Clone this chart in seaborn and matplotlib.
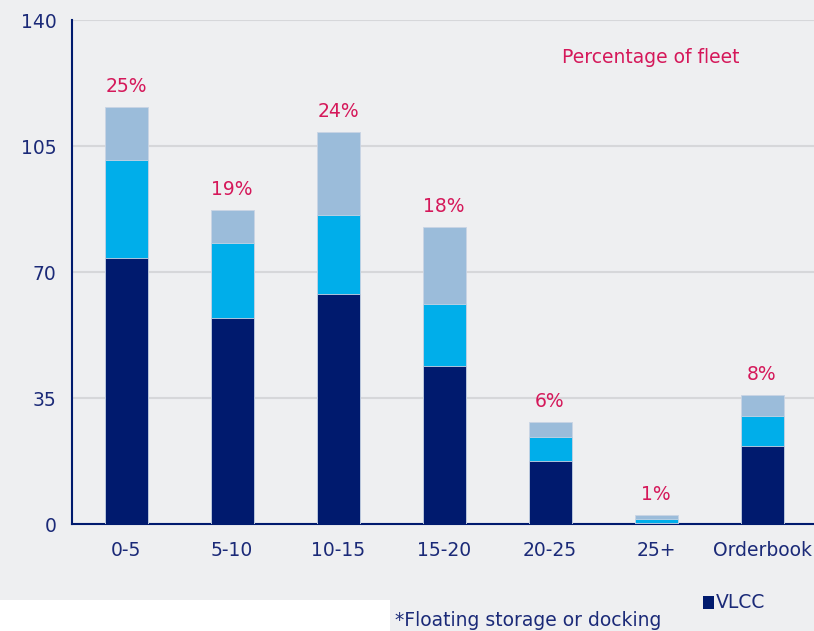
import matplotlib
matplotlib.use("Agg")
import matplotlib.pyplot as plt
import seaborn as sns
import pandas as pd
import numpy as np
from matplotlib.patches import Rectangle

categories = ["0-5", "5-10", "10-15", "15-20", "20-25", "25+", "Orderbook"]
navy_vals = [73.9, 57.3, 63.9, 43.8, 17.6, 0.4, 21.7]
cyan_vals = [27.2, 20.8, 21.9, 17.2, 6.6, 1.0, 8.3]
light_vals = [14.7, 9.1, 23.1, 21.5, 4.1, 1.1, 5.7]
pct_labels = ["25%", "19%", "24%", "18%", "6%", "1%", "8%"]
yticks = [0, 35, 70, 105, 140]

NAVY = "#001A6E"
CYAN = "#00AEEA"
LIGHT = "#9BBCDA"
BG = "#EEEFF1"
TXT = "#1B2A78"
RED = "#D5185A"
FS = 13.5

sns.set_theme(style="white")
plt.rcParams["font.family"] = ["DejaVu Sans"]

df = pd.DataFrame({"cat": categories, "navy": navy_vals, "cyan": cyan_vals, "light": light_vals})
df["lvl2"] = df["navy"] + df["cyan"]
df["total"] = df["lvl2"] + df["light"]

fig = plt.figure(figsize=(8.14, 6.31), dpi=100, facecolor=BG)
ax = fig.add_axes([72/814, (631-524)/631, 1 - 72/814, 504/631])
ax.set_facecolor(BG)

for col, color in [("total", LIGHT), ("lvl2", CYAN), ("navy", NAVY)]:
    sns.barplot(data=df, x="cat", y=col, color=color, width=0.405, ax=ax,
                edgecolor="#C9D4E4", linewidth=0.6, saturation=1, zorder=3)

for i, (t, lab) in enumerate(zip(df["total"], pct_labels)):
    ax.annotate(lab, (i, t), xytext=(0, 8), textcoords="offset points",
                ha="center", va="bottom", color=RED, fontsize=FS)

ax.set_xlim(-0.51, 6.49)
ax.set_ylim(0, 140)
ax.set_yticks(yticks)
ax.yaxis.grid(True, color="#D6D7DA", linewidth=1.5, zorder=0)
ax.set_axisbelow(True)
ax.set_xlabel("")
ax.set_ylabel("")
ax.tick_params(axis="both", colors=TXT, labelsize=FS, length=0)
ax.tick_params(axis="x", pad=12)
ax.tick_params(axis="y", pad=11)
for s in ["top", "right"]:
    ax.spines[s].set_visible(False)
for s in ["left", "bottom"]:
    ax.spines[s].set_color(NAVY)
    ax.spines[s].set_linewidth(1.5)

ax.text(0.78, 0.925, "Percentage of fleet", transform=ax.transAxes, ha="center",
        va="center", color=RED, fontsize=FS)

fig.add_artist(Rectangle((0, 0), 390/814, 31/631, transform=fig.transFigure,
                         facecolor="white", edgecolor="none"))
fig.text(395/814, 1 - 620/631, "*Floating storage or docking", ha="left", va="center",
         color=TXT, fontsize=FS)
fig.add_artist(Rectangle((703/814, 1 - 609/631), 11/814, 13/631, transform=fig.transFigure,
                         facecolor=NAVY, edgecolor="none"))
fig.text(716/814, 1 - 603/631, "VLCC", ha="left", va="center", color=TXT, fontsize=FS)

fig.savefig("out.png", dpi=100, facecolor=BG)
